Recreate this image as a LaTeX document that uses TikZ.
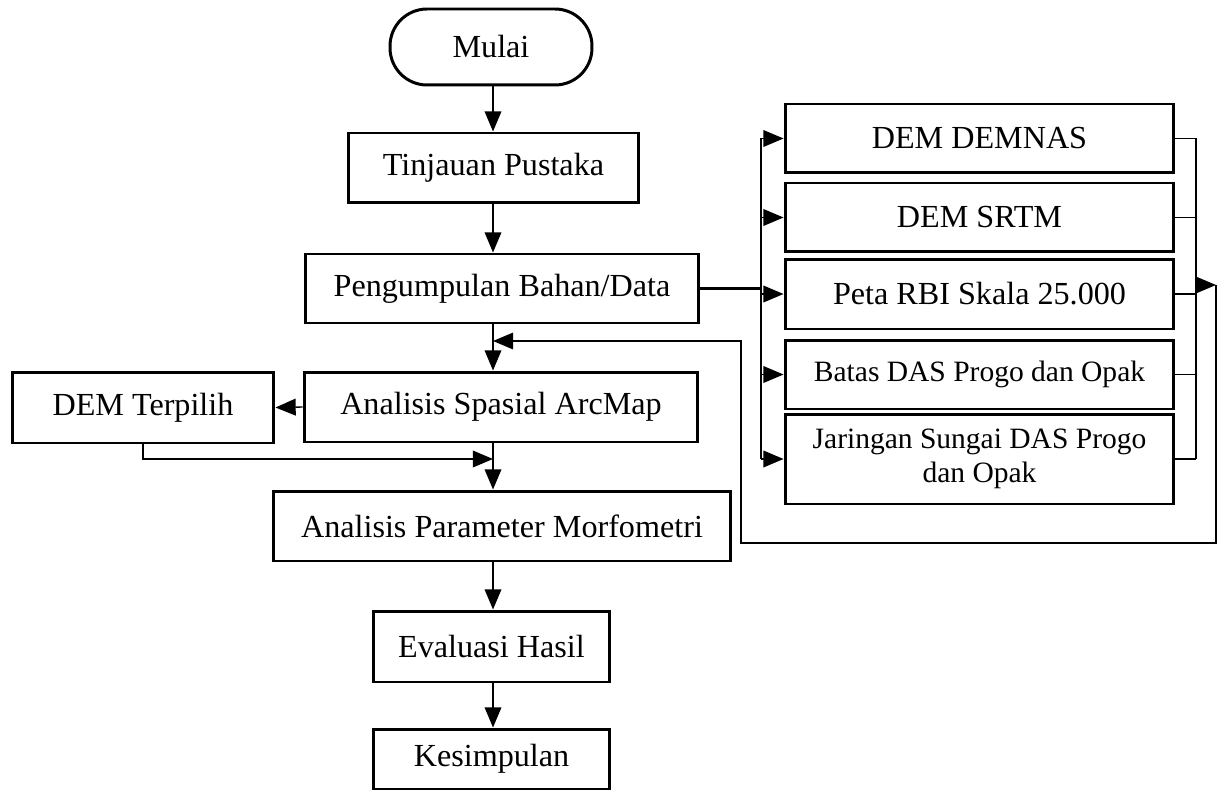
\documentclass[tikz,border=0pt]{standalone}
\usepackage{fontspec}
\setmainfont{Liberation Serif}
\usetikzlibrary{arrows.meta}

\begin{document}
\begin{tikzpicture}[x=0.02cm,y=-0.02cm,
    box/.style={draw,line width=1.7pt,inner sep=2pt,minimum height=1.4cm,
      font=\fontsize{18.3}{21}\selectfont},
    rbox/.style={box,minimum width=7.78cm,minimum height=1.38cm},
    line/.style={line width=0.8pt},
    arr/.style={line,-{Triangle[length=11.5pt,width=9.5pt]}}]
  \useasboundingbox (0,0) rectangle (1219,790);
  % main column
  \node[box,rounded corners=0.74cm,minimum width=4.04cm,minimum height=1.52cm] (mulai) at (491,47) {Mulai};
  \node[box,minimum width=5.82cm] (tinjauan) at (493.5,168) {Tinjauan Pustaka};
  \node[box,minimum width=7.88cm,minimum height=1.38cm] (pengumpulan) at (502,288.5) {Pengumpulan Bahan/Data};
  \node[box,minimum width=7.88cm] (spasial) at (501,407) {Analisis Spasial ArcMap};
  \node[box,minimum width=5.24cm,minimum height=1.42cm] (terpilih) at (143,407.5) {DEM Terpilih};
  \node[box,minimum width=9.16cm] (param) at (502,526) {Analisis Parameter Morfometri};
  \node[box,minimum width=4.74cm,minimum height=1.42cm] (evaluasi) at (491.5,646.5) {Evaluasi Hasil};
  \node[box,minimum width=4.74cm,minimum height=1.2cm] (kesimpulan) at (491.5,759) {Kesimpulan};
  % data
  \node[rbox] (demnas) at (979.5,138.5) {DEM DEMNAS};
  \node[rbox] (srtm) at (979.5,217.5) {DEM SRTM};
  \node[rbox,minimum height=1.4cm] (peta) at (979.5,294) {Peta RBI Skala 25.000};
  \node[rbox,font=\fontsize{16.8}{19}\selectfont] (batas) at (979.5,374.5) {Batas DAS Progo dan Opak};
  \node[rbox,minimum height=1.8cm,align=center,font=\fontsize{16.8}{19}\selectfont] (jaringan) at (979.5,459)
    {Jaringan Sungai DAS Progo\\dan Opak};

  \coordinate (spine) at (493,0);
  \coordinate (bus) at (761,0);
  \coordinate (collect) at (1196,0);
  \coordinate (ret) at (1216,285);
  \coordinate (back) at (741,543);
  \coordinate (join) at (493,341);
  \coordinate (join2) at (493,459);

  \draw[arr] (mulai.south -| spine) -- (tinjauan.north -| spine);
  \draw[arr] (tinjauan.south -| spine) -- (pengumpulan.north -| spine);
  \draw[arr] (pengumpulan.south -| spine) -- (spasial.north -| spine);
  \draw[arr] (spasial.south -| spine) -- (param.north -| spine);
  \draw[arr] (param.south -| spine) -- (evaluasi.north -| spine);
  \draw[arr] (evaluasi.south -| spine) -- (kesimpulan.north -| spine);
  \draw[arr] (spasial.west) -- (terpilih.east);
  \draw[arr] (terpilih.south) |- (join2);

  % split to the data boxes
  \draw[line width=1.2pt] (pengumpulan.east) -- (bus |- pengumpulan.east);
  \draw[line] (bus |- demnas.west) -- (bus |- jaringan.west);
  \foreach \n in {demnas,srtm,peta,batas,jaringan}
    \draw[arr] (bus |- \n.west) -- (\n.west);
  % back to the analysis
  \foreach \n in {demnas,srtm,peta,batas,jaringan}
    \draw[line] (\n.east) -- (collect |- \n.east);
  \draw[line] (collect |- demnas.east) -- (collect |- jaringan.east);
  \draw[arr] (collect |- ret) -- (ret);
  \draw[arr] (ret) |- (back) |- (join);
\end{tikzpicture}
\end{document}
